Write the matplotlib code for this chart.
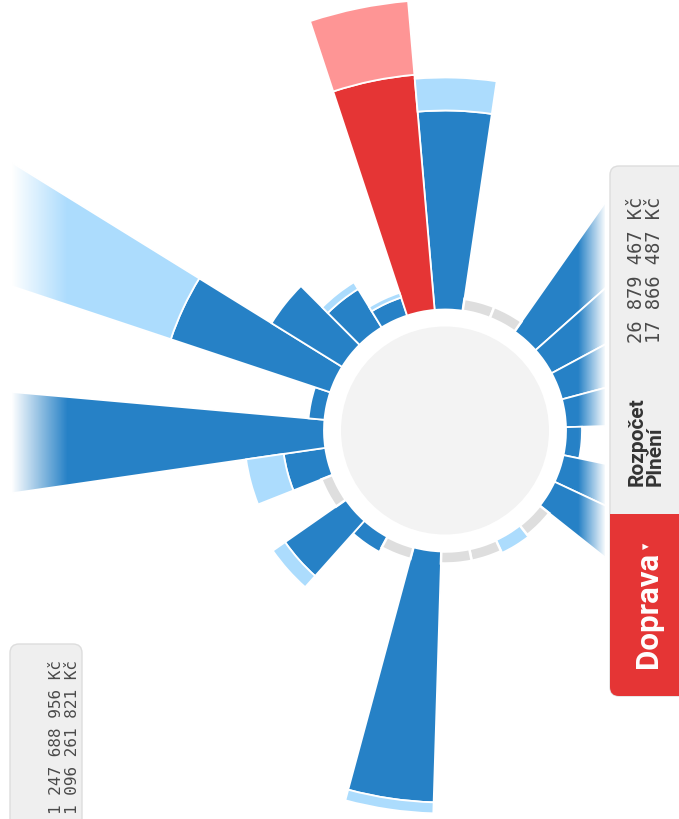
import numpy as np
import matplotlib
matplotlib.use('Agg')
import matplotlib.pyplot as plt
from matplotlib.patches import FancyBboxPatch, Rectangle

W, H = 679, 820
CX, CY = 445, 431.5       # centre of the wheel, px
R_IN = 121                # where the bars start
R_AX = 620                # radius of the polar axes, px

# 27 chapters clockwise, the first one just right of 12 o'clock
slotCount = 27
startAngle = 1.75
# outer radius (px) of the spent part (plneni), 0 = nothing spent
spentR = [320, 0, 0, 300, 290, 280, 280, 137, 280, 300, 0, 0, 0, 0,
          372, 0, 138, 195, 0, 163, 520, 137, 289, 204, 166, 140, 357]
# outer radius (px) of the budget part (rozpocet)
budgetR = [353, 0, 0, 300, 290, 280, 280, 137, 280, 300, 0, 135, 0, 0,
           383, 0, 138, 210, 0, 201, 520, 137, 580, 204, 174, 145, 431]
selected = 26   # Doprava

selName = 'Doprava'
selBudget = '26 879 467 Kč'
selSpent = '17 866 487 Kč'
totBudget = '1 247 688 956 Kč'
totSpent = '1 096 261 821 Kč'

clrDark = '#2681c6'
clrLight = '#acdcfd'
clrRed = '#e53535'
clrRedLight = '#fe9595'
clrZero = '#dedede'

fig = plt.figure(figsize=(W / 100, H / 100), dpi=100)
fig.patch.set_facecolor('white')

pax = fig.add_axes([(CX - R_AX) / W, (H - CY - R_AX) / H, 2 * R_AX / W, 2 * R_AX / H],
                   projection='polar')
pax.set_theta_zero_location('N')
pax.set_theta_direction(-1)
pax.set_ylim(0, R_AX)
pax.axis('off')

step = 360.0 / slotCount
theta = np.deg2rad(startAngle + step * np.arange(slotCount))
width = np.deg2rad(step)
spent = np.array(spentR, dtype=float)
budget = np.array(budgetR, dtype=float)

darkClr = [clrRed if i == selected else clrDark for i in range(slotCount)]
lightClr = [clrRedLight if i == selected else clrLight for i in range(slotCount)]

# inner disc
pax.bar(0, 104, width=2 * np.pi, bottom=0, color='#f3f3f3', linewidth=0)

hasSpent = spent > 0
pax.bar(theta[hasSpent], spent[hasSpent] - R_IN, width=width, bottom=R_IN,
        color=np.array(darkClr)[hasSpent], edgecolor='white', linewidth=1.3)

base = np.maximum(spent, R_IN)
hasBudget = budget > base
pax.bar(theta[hasBudget], budget[hasBudget] - base[hasBudget], width=width, bottom=base[hasBudget],
        color=np.array(lightClr)[hasBudget], edgecolor='white', linewidth=1.3)

isZero = (spent == 0) & (budget == 0)
pax.bar(theta[isZero], 12, width=width, bottom=R_IN, color=clrZero,
        edgecolor='white', linewidth=1.8)

# overlay in pixel coordinates
ov = fig.add_axes([0, 0, 1, 1])
ov.patch.set_alpha(0)

# fades at the edges
ramp = np.ones((1, 100, 4))
ramp[0, :, 3] = np.linspace(1, 0, 100)
ov.imshow(ramp, extent=[12, 68, H, 0], aspect='auto', interpolation='bilinear')
ov.add_patch(Rectangle((0, 0), 12, H, fc='white', ec='none'))
ramp2 = np.ones((1, 100, 4))
ramp2[0, :, 3] = np.linspace(0, 1, 100)
ov.imshow(ramp2, extent=[578, 606, H, 0], aspect='auto', interpolation='bilinear')
ov.add_patch(Rectangle((605, 0), 10, H, fc='white', ec='none'))

# detail panel on the right
ov.add_patch(FancyBboxPatch((610, 167), 110, 530, boxstyle='round,pad=0,rounding_size=9',
                            fc='#efefef', ec='#dddddd', lw=1))
redBox = FancyBboxPatch((610, 470), 110, 227, boxstyle='round,pad=0,rounding_size=9',
                        fc=clrRed, ec='none')
ov.add_patch(redBox)
redBox.set_clip_path(Rectangle((600, 515), 130, 200, transform=ov.transData))

ov.text(648, 668, selName, rotation=90, rotation_mode='anchor', ha='left', va='center',
        color='white', fontsize=22.5, fontweight='bold', family=['Roboto', 'DejaVu Sans'])
ov.text(647, 546, '▾', rotation=90, rotation_mode='anchor', ha='center', va='center',
        color='white', fontsize=9, family='DejaVu Sans')

ov.text(637, 486, 'Rozpočet', rotation=90, rotation_mode='anchor', ha='left', va='center',
        color='#333333', fontsize=15, fontweight='bold', family=['Roboto', 'DejaVu Sans'])
ov.text(655, 486, 'Plnění', rotation=90, rotation_mode='anchor', ha='left', va='center',
        color='#333333', fontsize=15, fontweight='bold', family=['Roboto', 'DejaVu Sans'])
ov.text(637, 197, selBudget, rotation=90, rotation_mode='anchor', ha='right', va='center',
        color='#4a4a4a', fontsize=13.5, family='DejaVu Sans Mono')
ov.text(655, 197, selSpent, rotation=90, rotation_mode='anchor', ha='right', va='center',
        color='#4a4a4a', fontsize=13.5, family='DejaVu Sans Mono')

# totals panel, bottom left
ov.add_patch(FancyBboxPatch((10, 645), 72, 220, boxstyle='round,pad=0,rounding_size=9',
                            fc='#efefef', ec='#dddddd', lw=1))
ov.text(56.5, 660, totBudget, rotation=90, rotation_mode='anchor', ha='right', va='center',
        color='#4a4a4a', fontsize=11.5, family='DejaVu Sans Mono')
ov.text(73, 660, totSpent, rotation=90, rotation_mode='anchor', ha='right', va='center',
        color='#4a4a4a', fontsize=11.5, family='DejaVu Sans Mono')

ov.set_xlim(0, W)
ov.set_ylim(H, 0)
ov.axis('off')

fig.savefig('out.png', dpi=100)
